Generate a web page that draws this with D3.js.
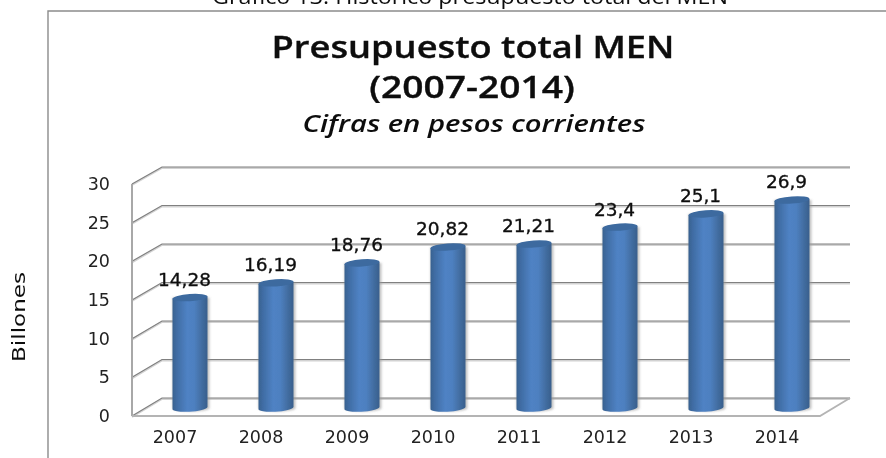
<!DOCTYPE html>
<html><head><meta charset="utf-8">
<script src="https://cdn.jsdelivr.net/npm/d3@7"></script>
<style>html,body{margin:0;padding:0;background:#fff;overflow:hidden}svg{display:block}</style>
</head><body><svg id="c" width="886" height="458"></svg>
<script>
const years = ["2007","2008","2009","2010","2011","2012","2013","2014"];
const values = [14.28,16.19,18.76,20.82,21.21,23.4,25.1,26.9];
const valueLabels = ["14,28","16,19","18,76","20,82","21,21","23,4","25,1","26,9"];
const yTicks = [0,5,10,15,20,25,30];
const caption = "Gráfico 13. Histórico presupuesto total del MEN";
const titleLines = ["Presupuesto total MEN","(2007-2014)"];
const subtitle = "Cifras en pesos corrientes";
const yAxisTitle = "Billones";

const svg = d3.select("#c");
const defs = svg.append("defs");
const grad = defs.append("linearGradient").attr("id","cyl");
[[0,"#38618f"],[0.12,"#3f6ca3"],[0.42,"#4f82c4"],[0.62,"#4e80c0"],[0.85,"#416c9f"],[1,"#385f8c"]]
  .forEach(([o,c])=>grad.append("stop").attr("offset",o).attr("stop-color",c));
defs.append("filter").attr("id","soft").append("feGaussianBlur").attr("stdDeviation",0.4);
const shadow = defs.append("filter").attr("id","sh").attr("x","-20%").attr("width","140%");
shadow.append("feGaussianBlur").attr("stdDeviation",1);

// scales: front plane, back wall, and the plane through the bars
const xFront = d3.scaleBand().domain(years).range([132,820]);
const yFront = d3.scaleLinear().domain([0,30]).range([416,184]);
const yBack  = d3.scaleLinear().domain([0,30]).range([398,167]);
const yBar   = d3.scaleLinear().domain([0,30]).range([408,176]);
const depthX = 30, barShift = 15, barW = 35, ry = 3.6;

const G = svg.append("g").attr("filter","url(#soft)");

// page frame
G.append("path").attr("d","M886,11H48V458").attr("fill","none").attr("stroke","#8c8c8c").attr("stroke-width",1.4);

const wideText = (sel,x,y,sx,size) => sel.attr("transform",`translate(${x},${y}) scale(${sx},1)`)
  .attr("text-anchor","middle").attr("font-size",size);

// caption, clipped by the top of the page
wideText(G.append("text"),470,4,1.06,22).attr("font-family","'Open Sans'").attr("fill","#111").text(caption);

// titles
titleLines.forEach((t,i)=>{
  wideText(G.append("text"),[473,472][i],[58,98][i],[1.17,1.2][i],31)
    .attr("font-family","'Open Sans'").attr("font-weight",600).attr("stroke","#0a0a0a").attr("stroke-width",0.3).attr("fill","#0a0a0a").text(t);
});
wideText(G.append("text"),474,132,1.27,23)
  .attr("font-family","'Open Sans'").attr("font-weight",600).attr("font-style","italic")
  .attr("fill","#0a0a0a").text(subtitle);

// axis title
G.append("text").attr("transform","translate(25,317) rotate(-90) scale(1.32,1)").attr("text-anchor","middle")
  .attr("font-family","'DejaVu Sans'").attr("font-size",17.5).attr("fill","#111").text(yAxisTitle);

// walls / gridlines
const x0 = xFront.range()[0], x1 = xFront.range()[1];
const grid = G.append("g").attr("fill","none");
yTicks.forEach(t=>{
  const d = `M${x0},${yFront(t)}L${x0+depthX},${yBack(t)}H${x1+depthX}`;
  grid.append("path").attr("d",d).attr("stroke","#d2d2d2").attr("stroke-width",2).attr("transform","translate(0,1)");
  grid.append("path").attr("d",d).attr("stroke","#808080").attr("stroke-width",1.2);
});
grid.append("path").attr("d",`M${x0},${yFront(30)}V${yFront(0)}`).attr("stroke","#a8a8a8").attr("stroke-width",2);
grid.append("path").attr("d",`M${x0},${yFront(0)}H${x1}L${x1+depthX},${yBack(0)}`).attr("stroke","#b4b4b4").attr("stroke-width",1.8);

// cylinders
const cyl = G.selectAll("g.bar").data(values).join("g").attr("class","bar");
const cx = (d,i)=>xFront(years[i])+xFront.bandwidth()/2+barShift;
cyl.append("path").attr("filter","url(#sh)").attr("fill","#9a9a9a").attr("opacity",0.6)
  .attr("d",(d,i)=>{const c=cx(d,i)+1,t=yBar(d),b=yBar(0);
    return `M${c-barW/2-1},${t}H${c+barW/2+1}V${b}A${barW/2+1},${ry} 0 0 1 ${c-barW/2-1},${b}Z`;});
cyl.append("path").attr("fill","url(#cyl)")
  .attr("d",(d,i)=>{const c=cx(d,i),t=yBar(d),b=yBar(0);
    return `M${c-barW/2},${t+1}L${c+barW/2},${t-1}V${b-1}A${barW/2},${ry} -4 0 1 ${c-barW/2},${b+1}Z`;});
cyl.append("ellipse").attr("fill","#3c6a9f")
  .attr("cx",(d,i)=>cx(d,i)).attr("cy",d=>yBar(d)).attr("rx",barW/2).attr("ry",ry)
  .attr("transform",(d,i)=>`rotate(-4 ${cx(d,i)} ${yBar(d)})`);

// value labels
G.selectAll("text.v").data(values).join("text").attr("class","v")
  .attr("x",(d,i)=>cx(d,i)-5.5).attr("y",d=>yBar(d)-11.5).attr("text-anchor","middle")
  .attr("font-family","'DejaVu Sans'").attr("font-size",18.5)
  .attr("stroke","#111").attr("stroke-width",0.35).attr("fill","#111")
  .text((d,i)=>valueLabels[i]);

// axis labels
const axisY = d3.axisLeft(yFront).tickValues(yTicks).tickSize(0).tickPadding(22);
const gy = G.append("g").attr("transform",`translate(${x0},0)`).call(axisY);
gy.select(".domain").remove();
gy.selectAll("text").attr("font-family","'DejaVu Sans'").attr("font-size",17.5).attr("fill","#222");
const axisX = d3.axisBottom(xFront).tickSize(0).tickPadding(15);
const gx = G.append("g").attr("transform",`translate(0,${yFront(0)})`).call(axisX);
gx.select(".domain").remove();
gx.selectAll("text").attr("font-family","'DejaVu Sans'").attr("font-size",17.5).attr("fill","#222");
</script></body></html>
